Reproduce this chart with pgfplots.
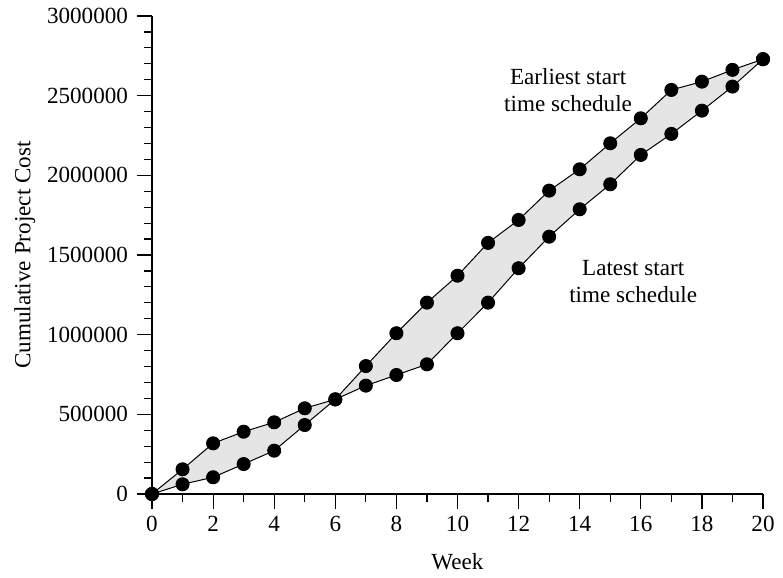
\documentclass[border=0pt]{standalone}
\usepackage{fontspec}
\setmainfont{Liberation Serif}
\usepackage{pgfplots}
\pgfplotsset{compat=1.18}
\usepgfplotslibrary{fillbetween}
\begin{document}
\begin{tikzpicture}
\begin{axis}[
 scale only axis, width=305.5bp, height=239bp,
 xmin=0,xmax=20,ymin=0,ymax=3000000,
 axis x line*=bottom, axis y line*=left,
 clip=false,
 font=\fontsize{11.6}{13.5}\selectfont,
 /pgf/number format/assume math mode=true,
 xtick={0,2,4,6,8,10,12,14,16,18,20}, minor xtick={1,3,5,7,9,11,13,15,17,19},
 ytick={0,500000,1000000,1500000,2000000,2500000,3000000}, minor y tick num=4,
 scaled y ticks=false,
 yticklabel style={/pgf/number format/fixed,/pgf/number format/1000 sep={}, xshift=-1bp},
 tick align=outside,
 major tick length=7.5bp, minor tick length=4bp,
 tick style={black, line width=0.6bp},
 axis line style={line width=0.7bp},
 xlabel={Week}, ylabel={Cumulative Project Cost},
 every axis y label/.style={at={(axis description cs:-0.208,0.5)}, rotate=90, anchor=center},
 every axis x label/.style={at={(axis description cs:0.5,-0.142)}, anchor=center},
]
\addplot[name path=upper, black, line width=0.5bp, mark=*, mark size=3.25bp] coordinates {
(0,0)(1,155000)(2,318000)(3,391000)(4,450000)(5,538000)(6,594000)(7,803000)(8,1009000)(9,1201000)(10,1370000)(11,1576000)(12,1720000)(13,1904000)(14,2038000)(15,2201000)(16,2358000)(17,2536000)(18,2588000)(19,2662000)(20,2729000)};
\addplot[name path=lower, black, line width=0.5bp, mark=*, mark size=3.25bp] coordinates {
(0,0)(1,61000)(2,105000)(3,188000)(4,272000)(5,433000)(6,594000)(7,680000)(8,747000)(9,814000)(10,1009000)(11,1201000)(12,1417000)(13,1615000)(14,1787000)(15,1944000)(16,2128000)(17,2260000)(18,2406000)(19,2557000)(20,2729000)};
\addplot[fill=black!10, draw=none] fill between[of=upper and lower];
\node[align=center, font=\fontsize{11.6}{13.5}\selectfont] at (axis cs:13.62,2536000) {Earliest start\\time schedule};
\node[align=center, font=\fontsize{11.6}{13.5}\selectfont] at (axis cs:15.75,1331000) {Latest start\\time schedule};
\end{axis}
\pgfresetboundingbox
\path[use as bounding box] (-76bp,-42bp) rectangle (315.5bp,247bp);
\end{tikzpicture}
\end{document}
